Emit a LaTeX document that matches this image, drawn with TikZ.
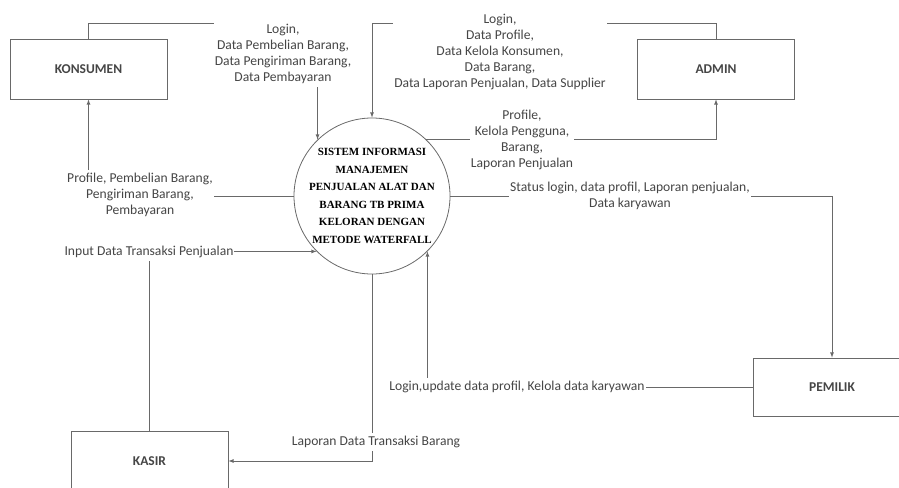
\documentclass[tikz,border=0pt]{standalone}
\usepackage{fontspec}
\setmainfont{Carlito}
\newfontfamily\dfdserif{Liberation Serif}
\usepackage{tikz}
\usetikzlibrary{arrows,shapes,positioning}
\usepackage{xcolor}
\definecolor{dfdline}{RGB}{105,105,105}
\definecolor{dfdtext}{RGB}{70,70,70}
\tikzstyle{entity} = [rectangle, minimum width=157pt, minimum height=60pt, text centered, draw=dfdline, line width=0.8pt, text=dfdtext, font=\bfseries\fontsize{13.5}{16}\selectfont]
\tikzstyle{process} = [circle, minimum size=156pt, draw=dfdline, line width=0.8pt]
\tikzstyle{arrow} = [->,>=latex, color=dfdline, line width=0.8pt]
\tikzstyle{flow} = [fill=white, align=center, inner xsep=1pt, inner ysep=3pt, text=dfdtext, font=\fontsize{13.6}{16}\selectfont]

\begin{document}
\begin{tikzpicture}[x=1pt,y=-1pt]
\useasboundingbox (0,0) rectangle (899,487);

% External entities
\node[entity] (konsumen) at (88.5,69) {KONSUMEN};
\node[entity] (admin) at (716,69) {ADMIN};
\node[entity, minimum height=58pt] (pemilik) at (832,387) {PEMILIK};
\node[entity] (kasir) at (149.5,461) {KASIR};

% Process
\node[process] (sys) at (372,196) {};
\node[align=center, font=\dfdserif\bfseries\fontsize{11}{17.5}\selectfont] (systitle) at (sys.center) {SISTEM INFORMASI\\MANAJEMEN\\PENJUALAN ALAT DAN\\BARANG TB PRIMA\\KELORAN DENGAN\\METODE WATERFALL};

% Konsumen <-> sistem
\draw[arrow] (konsumen.north) -- ++(0,-15) -| (sys.134);
\node[flow] (lkons) at (283,54) {Login,\\Data Pembelian Barang,\\Data Pengiriman Barang,\\Data Pembayaran};
\draw[arrow] (sys.west) -| (konsumen.south);
\node[flow] (lkons2) at (140,195) {Profile, Pembelian Barang,\\Pengiriman Barang,\\Pembayaran};

% Admin <-> sistem
\draw[arrow] (admin.north) -- ++(0,-15) -| (sys.north);
\node[flow] (ladm) at (500,52) {Login,\\Data Profile,\\Data Kelola Konsumen,\\Data Barang,\\Data Laporan Penjualan, Data Supplier};
\draw[arrow] (sys.46) -| (admin.south);
\node[flow] (ladm2) at (522,140) {Profile,\\Kelola Pengguna,\\Barang,\\Laporan Penjualan};

% Pemilik <-> sistem
\draw[arrow] (sys.east) -| (pemilik.north);
\node[flow] (lpem) at (630,196) {Status login, data profil, Laporan penjualan,\\Data karyawan};
\draw[arrow] (pemilik.west) -| (sys.315);
\node[flow] (lpem2) at (517,387) {Login,update data profil, Kelola data karyawan};

% Kasir <-> sistem
\draw[arrow] (kasir.north) |- (sys.225);
\node[flow] (lkas) at (149,252) {Input Data Transaksi Penjualan};
\draw[arrow] (sys.south) |- (kasir.east);
\node[flow] (lkas2) at (376,442) {Laporan Data Transaksi Barang};
\end{tikzpicture}
\end{document}
